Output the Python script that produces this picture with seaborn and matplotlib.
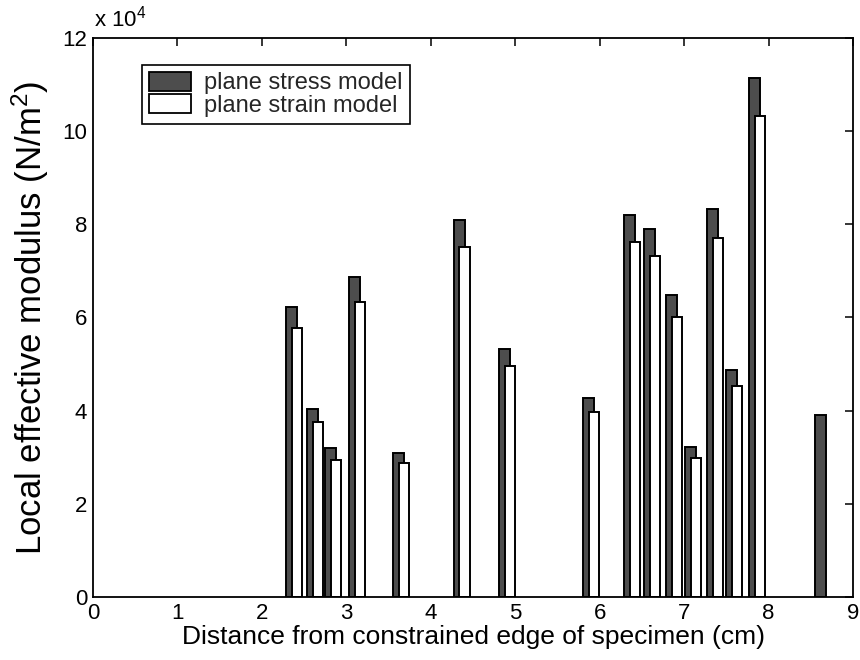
import numpy as np
import pandas as pd
import matplotlib
matplotlib.use("Agg")
import matplotlib.pyplot as plt
import seaborn as sns
from matplotlib.patches import Patch

# ---- data ----
distance_cm = [2.39, 2.63, 2.85, 3.13, 3.65, 4.37, 4.91, 5.90,
               6.39, 6.62, 6.89, 7.11, 7.37, 7.60, 7.87, 8.65]
plane_stress = [62200, 40300, 32000, 68700, 30900, 80900, 53200, 42700,
                82000, 79000, 64800, 32200, 83300, 48700, 111400, 39000]
plane_strain = [57700, 37600, 29400, 63300, 28800, 75100, 49600, 39700,
                76200, 73200, 60100, 29800, 77000, 45300, 103300, np.nan]
series_labels = ["plane stress model", "plane strain model"]
x_tick_labels = ["0", "1", "2", "3", "4", "5", "6", "7", "8", "9"]
y_tick_labels = ["0", "2", "4", "6", "8", "10", "12"]
x_label = "Distance from constrained edge of specimen (cm)"
y_label = "Local effective modulus (N/m$^2$)"

# ---- style ----
sns.set_style("white")
plt.rcParams["font.family"] = ["Liberation Sans", "DejaVu Sans"]
plt.rcParams["mathtext.fontset"] = "custom"
plt.rcParams["mathtext.rm"] = "Liberation Sans"
plt.rcParams["mathtext.it"] = "Liberation Sans:italic"

dark = "#4d4d4d"
fig = plt.figure(figsize=(8.6, 6.6), dpi=100)
ax = fig.add_axes([0.108, 0.0955, 0.884, 0.847])

df_stress = pd.DataFrame({"x": np.array(distance_cm) - 0.035, "y": plane_stress})
df_strain = pd.DataFrame({"x": np.array(distance_cm) + 0.03, "y": plane_strain}).dropna()


def native_step(xs):
    u = np.unique(xs)
    return np.min(np.diff(u))


sns.barplot(data=df_stress, x="x", y="y", native_scale=True,
            width=0.13 / native_step(df_stress["x"]), color=dark,
            saturation=1, edgecolor="black", linewidth=1.4,
            errorbar=None, ax=ax)
sns.barplot(data=df_strain, x="x", y="y", native_scale=True,
            width=0.12 / native_step(df_strain["x"]), color="white",
            saturation=1, edgecolor="black", linewidth=1.4,
            errorbar=None, ax=ax)

ax.set_xlim(0, 9)
ax.set_ylim(0, 120000)
ax.set_xticks(range(len(x_tick_labels)))
ax.set_xticklabels(x_tick_labels)
ax.set_yticks(np.arange(len(y_tick_labels)) * 20000)
ax.set_yticklabels(y_tick_labels)

ax.tick_params(axis="both", which="both", direction="in", length=6, width=1.1,
               labelsize=16, top=True, right=True, color="black",
               labelcolor="black", pad=4)
for s in ax.spines.values():
    s.set_visible(True)
    s.set_color("black")
    s.set_linewidth(1.3)

ax.set_xlabel(x_label, fontsize=19, color="black", labelpad=1)
ax.set_ylabel(y_label, fontsize=25, color="black", labelpad=8)

ax.text(0.002, 1.012, "x 10$^{4}$", transform=ax.transAxes, ha="left",
        va="bottom", fontsize=16, color="black")

handles = [Patch(facecolor=dark, edgecolor="black", linewidth=1.3),
           Patch(facecolor="white", edgecolor="black", linewidth=1.3)]
leg = ax.legend(handles, series_labels, loc="upper left",
                bbox_to_anchor=(0.064, 0.952), fontsize=17, frameon=True,
                fancybox=False, edgecolor="black", framealpha=1,
                handlelength=1.8, handleheight=0.85, handletextpad=0.55,
                labelspacing=0.0, borderpad=0.3, borderaxespad=0)
leg.get_frame().set_linewidth(1.2)

fig.savefig("out.png", dpi=100, facecolor="white")
